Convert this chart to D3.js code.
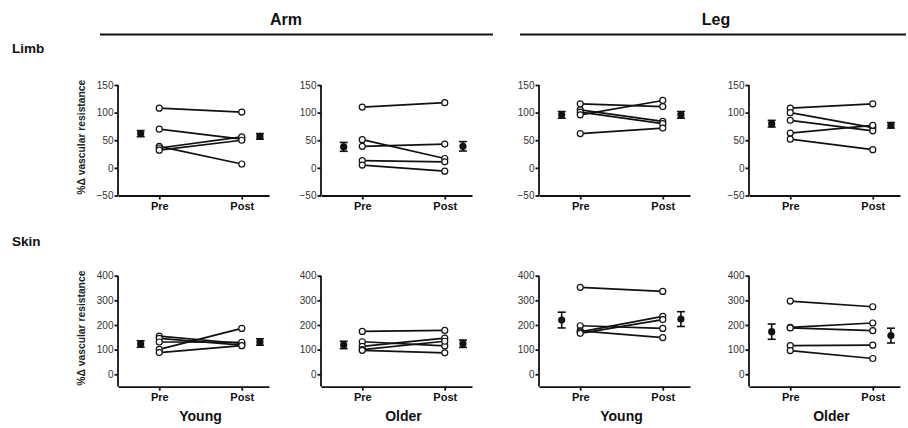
<!DOCTYPE html>
<html>
<head>
<meta charset="utf-8">
<script src="https://cdn.jsdelivr.net/npm/d3@7"></script>
<style>
  body { margin: 0; background: #fff; }
  svg { display: block; font-family: "Liberation Sans", Arial, sans-serif; }
</style>
</head>
<body>
<svg id="chart" width="908" height="428"></svg>
<script>
// categories
const limbs = ['Arm', 'Leg']
const rows = ['Limb', 'Skin']
const groups = ['Young', 'Older']
const times = ['Pre', 'Post']
const limbTicks = [-50, 0, 50, 100, 150]
const skinTicks = [0, 100, 200, 300, 400]

// individual subjects, pre / post (% change in vascular resistance)
const armLimbYoungPre = [108, 70, 39, 36, 32]
const armLimbYoungPost = [101, 52, 7, 56, 50]
const armLimbOlderPre = [110, 51, 39, 13, 5]
const armLimbOlderPost = [118, 17, 43, 11, -6]
const legLimbYoungPre = [116, 105, 101, 96, 62]
const legLimbYoungPost = [111, 84, 80, 122, 72]
const legLimbOlderPre = [108, 100, 86, 63, 52]
const legLimbOlderPost = [116, 73, 67, 77, 33]
const armSkinYoungPre = [155, 146, 131, 101, 88]
const armSkinYoungPost = [125, 118, 130, 186, 116]
const armSkinOlderPre = [174, 132, 113, 100, 97]
const armSkinOlderPost = [178, 115, 147, 134, 87]
const legSkinYoungPre = [353, 197, 176, 172, 166]
const legSkinYoungPost = [336, 186, 149, 235, 222]
const legSkinOlderPre = [297, 190, 188, 116, 96]
const legSkinOlderPost = [274, 208, 177, 118, 64]

// group mean +/- SE, panel order: limb arm Y/O, limb leg Y/O, skin arm Y/O, skin leg Y/O
const meanPre = [62, 38, 96, 80, 123, 119, 220, 173]
const meanPost = [57, 39, 96, 77, 131, 124, 224, 157]
const semPre = [5.5, 8, 6, 6, 13, 15, 32, 31]
const semPost = [5, 8.5, 6, 5, 13, 15, 30, 30]

const pairs = [
  [armLimbYoungPre, armLimbYoungPost], [armLimbOlderPre, armLimbOlderPost],
  [legLimbYoungPre, legLimbYoungPost], [legLimbOlderPre, legLimbOlderPost],
  [armSkinYoungPre, armSkinYoungPost], [armSkinOlderPre, armSkinOlderPost],
  [legSkinYoungPre, legSkinYoungPost], [legSkinOlderPre, legSkinOlderPost]
]

const svg = d3.select('#chart')
svg.append('rect').attr('width', 908).attr('height', 428).attr('fill', '#fff')

// layout
const panelLeft = [118, 321, 539, 749]
const panelW = 151
const rowLayout = [
  { top: 85, bottom: 195.5, domain: [-50, 150], ticks: limbTicks },
  { top: 275.7, bottom: 386.6, domain: [-50, 400], ticks: skinTicks }
]

// headers
const headerLines = [[100, 493, 286], [520, 906, 716]]
limbs.forEach((limb, i) => {
  const [x1, x2, tx] = headerLines[i]
  svg.append('line').attr('x1', x1).attr('x2', x2).attr('y1', 34.5).attr('y2', 34.5)
    .attr('stroke', '#111').attr('stroke-width', 2)
  svg.append('text').attr('x', tx).attr('y', 25).attr('text-anchor', 'middle')
    .attr('font-size', 16).attr('font-weight', 'bold').attr('fill', '#111').text(limb)
})
rows.forEach((r, i) => {
  svg.append('text').attr('x', 12).attr('y', i === 0 ? 53 : 246)
    .attr('font-size', 13.5).attr('font-weight', 'bold').attr('fill', '#111').text(r)
})

pairs.forEach(([pre, post], p) => {
  const row = Math.floor(p / 4)
  const col = p % 4
  const L = rowLayout[row]
  const x0 = panelLeft[col]
  const x = d3.scaleLinear().domain([-0.5, 1.33]).range([x0, x0 + panelW])
  const y = d3.scaleLinear().domain(L.domain).range([L.bottom, L.top])
  const g = svg.append('g')

  // y axis
  const ya = g.append('g').attr('transform', `translate(${x0},0)`)
    .call(d3.axisLeft(y).tickValues(L.ticks).tickSize(3.5).tickPadding(1).tickSizeOuter(0))
  ya.select('.domain').attr('d', `M0,${y(L.domain[0])}V${y(L.ticks[L.ticks.length - 1])}`)
  ya.selectAll('path, line').attr('stroke', '#111').attr('stroke-width', 1.8)
  ya.selectAll('text').attr('font-size', 10).attr('fill', '#333').attr('font-family', 'Liberation Sans, Arial, sans-serif')

  // x axis
  const xa = g.append('g').attr('transform', `translate(0,${L.bottom})`)
    .call(d3.axisBottom(x).tickValues([0, 1]).tickFormat(i => times[i]).tickSize(4).tickPadding(3).tickSizeOuter(0))
  xa.selectAll('path, line').attr('stroke', '#111').attr('stroke-width', 1.8)
  xa.selectAll('text').attr('font-size', 11).attr('font-weight', 'bold').attr('fill', '#111')
    .attr('font-family', 'Liberation Sans, Arial, sans-serif')

  // y title on first column
  if (col === 0) {
    g.append('text')
      .attr('transform', `translate(85,${(L.top + L.bottom) / 2 - 3}) rotate(-90)`)
      .attr('text-anchor', 'middle').attr('font-size', 10.3).attr('font-weight', 'bold')
      .attr('fill', '#222').text('%\u0394 vascular resistance')
  }

  // subject lines
  const subj = pre.map((v, i) => [v, post[i]])
  g.selectAll('line.subj').data(subj).enter().append('line')
    .attr('x1', x(0)).attr('x2', x(1))
    .attr('y1', d => y(d[0])).attr('y2', d => y(d[1]))
    .attr('stroke', '#111').attr('stroke-width', 1.7)
  const pts = subj.flatMap(d => [[0, d[0]], [1, d[1]]])
  g.selectAll('circle.pt').data(pts).enter().append('circle')
    .attr('cx', d => x(d[0])).attr('cy', d => y(d[1])).attr('r', 3)
    .attr('fill', '#fff').attr('stroke', '#111').attr('stroke-width', 1.2)

  // means with SE
  const means = [[-0.225, meanPre[p], semPre[p]], [1.22, meanPost[p], semPost[p]]]
  const m = g.selectAll('g.mean').data(means).enter().append('g')
  m.append('line').attr('x1', d => x(d[0])).attr('x2', d => x(d[0]))
    .attr('y1', d => y(d[1] - d[2])).attr('y2', d => y(d[1] + d[2]))
    .attr('stroke', '#111').attr('stroke-width', 1.6)
  m.append('line').attr('x1', d => x(d[0]) - 4).attr('x2', d => x(d[0]) + 4)
    .attr('y1', d => y(d[1] + d[2])).attr('y2', d => y(d[1] + d[2]))
    .attr('stroke', '#111').attr('stroke-width', 1.6)
  m.append('line').attr('x1', d => x(d[0]) - 4).attr('x2', d => x(d[0]) + 4)
    .attr('y1', d => y(d[1] - d[2])).attr('y2', d => y(d[1] - d[2]))
    .attr('stroke', '#111').attr('stroke-width', 1.6)
  m.append('circle').attr('cx', d => x(d[0])).attr('cy', d => y(d[1])).attr('r', 3.6)
    .attr('fill', '#111')

  // group label under bottom row
  if (row === 1) {
    g.append('text').attr('x', (x(0) + x(1)) / 2).attr('y', 421).attr('text-anchor', 'middle')
      .attr('font-size', 14).attr('font-weight', 'bold').attr('fill', '#111').text(groups[col % 2])
  }
})
</script>
</body>
</html>
